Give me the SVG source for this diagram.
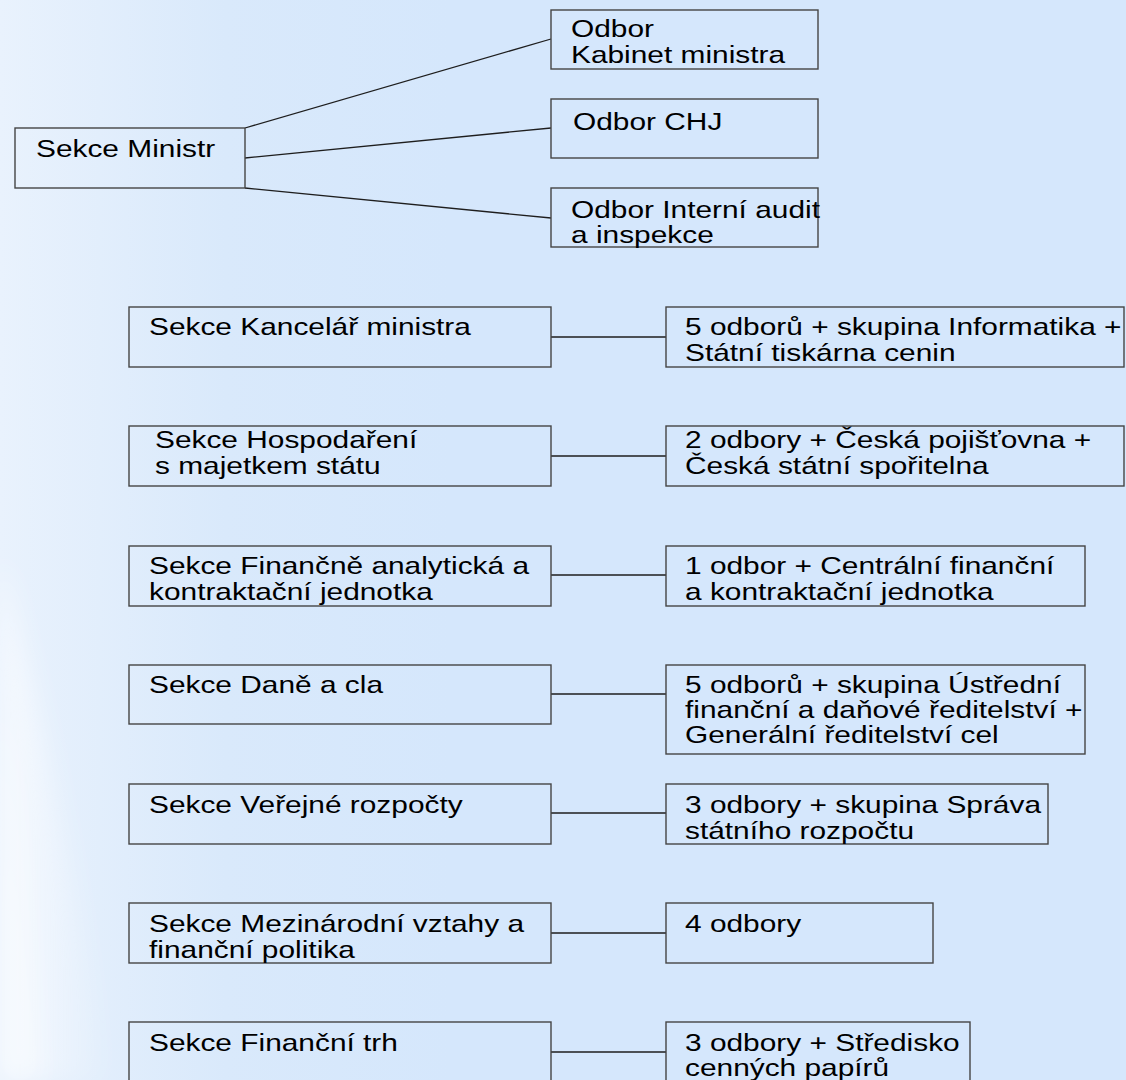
<svg xmlns="http://www.w3.org/2000/svg" width="1126" height="1080" viewBox="0 0 1126 1080">
  <defs>
    <linearGradient id="bg" x1="0" y1="0" x2="1" y2="0">
      <stop offset="0" stop-color="#E9F2FD"/>
      <stop offset="0.2" stop-color="#D9E9FB"/>
      <stop offset="0.4" stop-color="#D5E7FC"/>
      <stop offset="1" stop-color="#D5E7FC"/>
    </linearGradient>
    <linearGradient id="swoosh" x1="0" y1="0" x2="1" y2="0">
      <stop offset="0" stop-color="#FFFFFF" stop-opacity="0.6"/>
      <stop offset="1" stop-color="#FFFFFF" stop-opacity="0"/>
    </linearGradient>
    <filter id="soft" x="-50%" y="-10%" width="200%" height="120%">
      <feGaussianBlur stdDeviation="12"/>
    </filter>
    <style>
      .box { fill: none; stroke: #454545; stroke-width: 1.4; }
      .conn line { stroke: #1E1E1E; stroke-width: 1.3; }
      text { font-family: "Liberation Sans", Arial, sans-serif; font-size: 24px; fill: #000; }
    </style>
  </defs>
  <rect x="0" y="0" width="1126" height="1080" fill="url(#bg)"/>
  <path d="M0 560 C 40 700, 70 850, 110 1080 L 0 1080 Z" fill="url(#swoosh)" filter="url(#soft)"/>
  <path d="M0 700 C 15 800, 25 900, 40 1080 L 0 1080 Z" fill="#FFFFFF" fill-opacity="0.3" filter="url(#soft)"/>

  <g id="connectors" class="conn">
    <line x1="245" y1="128" x2="551" y2="39"/>
    <line x1="245" y1="158" x2="551" y2="128"/>
    <line x1="245" y1="188" x2="551" y2="218"/>
    <line x1="551" y1="337" x2="666" y2="337"/>
    <line x1="551" y1="456" x2="666" y2="456"/>
    <line x1="551" y1="575" x2="666" y2="575"/>
    <line x1="551" y1="694" x2="666" y2="694"/>
    <line x1="551" y1="813" x2="666" y2="813"/>
    <line x1="551" y1="933" x2="666" y2="933"/>
    <line x1="551" y1="1052" x2="666" y2="1052"/>
  </g>

  <g id="sekce-ministr">
    <rect class="box" x="15" y="128" width="230" height="60"/>
    <text transform="matrix(1.245 0 0 1 36 157)">Sekce Ministr</text>
  </g>
  <g id="odbor-kabinet">
    <rect class="box" x="551" y="10" width="267" height="59"/>
    <text transform="matrix(1.245 0 0 1 571 37)"><tspan x="0" y="0">Odbor</tspan><tspan x="0" y="26">Kabinet ministra</tspan></text>
  </g>
  <g id="odbor-chj">
    <rect class="box" x="551" y="99" width="267" height="59"/>
    <text transform="matrix(1.245 0 0 1 573 130)">Odbor CHJ</text>
  </g>
  <g id="odbor-audit">
    <rect class="box" x="551" y="188" width="267" height="59"/>
    <text transform="matrix(1.245 0 0 1 571 218)"><tspan x="0" y="0">Odbor Interní audit</tspan><tspan x="0" y="25">a inspekce</tspan></text>
  </g>

  <g id="sekce-kancelar">
    <rect class="box" x="129" y="307" width="422" height="60"/>
    <text transform="matrix(1.245 0 0 1 149 335)">Sekce Kancelář ministra</text>
  </g>
  <g id="kancelar-odbory">
    <rect class="box" x="666" y="307" width="458" height="60"/>
    <text transform="matrix(1.245 0 0 1 685 335)"><tspan x="0" y="0">5 odborů + skupina Informatika +</tspan><tspan x="0" y="26">Státní tiskárna cenin</tspan></text>
  </g>

  <g id="sekce-hospodareni">
    <rect class="box" x="129" y="426" width="422" height="60"/>
    <text transform="matrix(1.245 0 0 1 155 448)"><tspan x="0" y="0">Sekce Hospodaření</tspan><tspan x="0" y="26">s majetkem státu</tspan></text>
  </g>
  <g id="hospodareni-odbory">
    <rect class="box" x="666" y="426" width="458" height="60"/>
    <text transform="matrix(1.245 0 0 1 685 448)"><tspan x="0" y="0">2 odbory + Česká pojišťovna +</tspan><tspan x="0" y="26">Česká státní spořitelna</tspan></text>
  </g>

  <g id="sekce-financne-analyticka">
    <rect class="box" x="129" y="546" width="422" height="60"/>
    <text transform="matrix(1.245 0 0 1 149 574)"><tspan x="0" y="0">Sekce Finančně analytická a</tspan><tspan x="0" y="26">kontraktační jednotka</tspan></text>
  </g>
  <g id="financne-analyticka-odbory">
    <rect class="box" x="666" y="546" width="419" height="60"/>
    <text transform="matrix(1.245 0 0 1 685 574)"><tspan x="0" y="0">1 odbor + Centrální finanční</tspan><tspan x="0" y="26">a kontraktační jednotka</tspan></text>
  </g>

  <g id="sekce-dane">
    <rect class="box" x="129" y="665" width="422" height="59"/>
    <text transform="matrix(1.245 0 0 1 149 693)">Sekce Daně a cla</text>
  </g>
  <g id="dane-odbory">
    <rect class="box" x="666" y="665" width="419" height="89"/>
    <text transform="matrix(1.245 0 0 1 685 693)"><tspan x="0" y="0">5 odborů + skupina Ústřední</tspan><tspan x="0" y="25">finanční a daňové ředitelství +</tspan><tspan x="0" y="50">Generální ředitelství cel</tspan></text>
  </g>

  <g id="sekce-verejne-rozpocty">
    <rect class="box" x="129" y="784" width="422" height="60"/>
    <text transform="matrix(1.245 0 0 1 149 813)">Sekce Veřejné rozpočty</text>
  </g>
  <g id="verejne-rozpocty-odbory">
    <rect class="box" x="666" y="784" width="382" height="60"/>
    <text transform="matrix(1.245 0 0 1 685 813)"><tspan x="0" y="0">3 odbory + skupina Správa</tspan><tspan x="0" y="26">státního rozpočtu</tspan></text>
  </g>

  <g id="sekce-mezinarodni">
    <rect class="box" x="129" y="903" width="422" height="60"/>
    <text transform="matrix(1.245 0 0 1 149 932)"><tspan x="0" y="0">Sekce Mezinárodní vztahy a</tspan><tspan x="0" y="26">finanční politika</tspan></text>
  </g>
  <g id="mezinarodni-odbory">
    <rect class="box" x="666" y="903" width="267" height="60"/>
    <text transform="matrix(1.245 0 0 1 685 932)">4 odbory</text>
  </g>

  <g id="sekce-financni-trh">
    <rect class="box" x="129" y="1022" width="422" height="62"/>
    <text transform="matrix(1.245 0 0 1 149 1051)">Sekce Finanční trh</text>
  </g>
  <g id="financni-trh-odbory">
    <rect class="box" x="666" y="1022" width="304" height="62"/>
    <text transform="matrix(1.245 0 0 1 685 1051)"><tspan x="0" y="0">3 odbory + Středisko</tspan><tspan x="0" y="25">cenných papírů</tspan></text>
  </g>
</svg>
